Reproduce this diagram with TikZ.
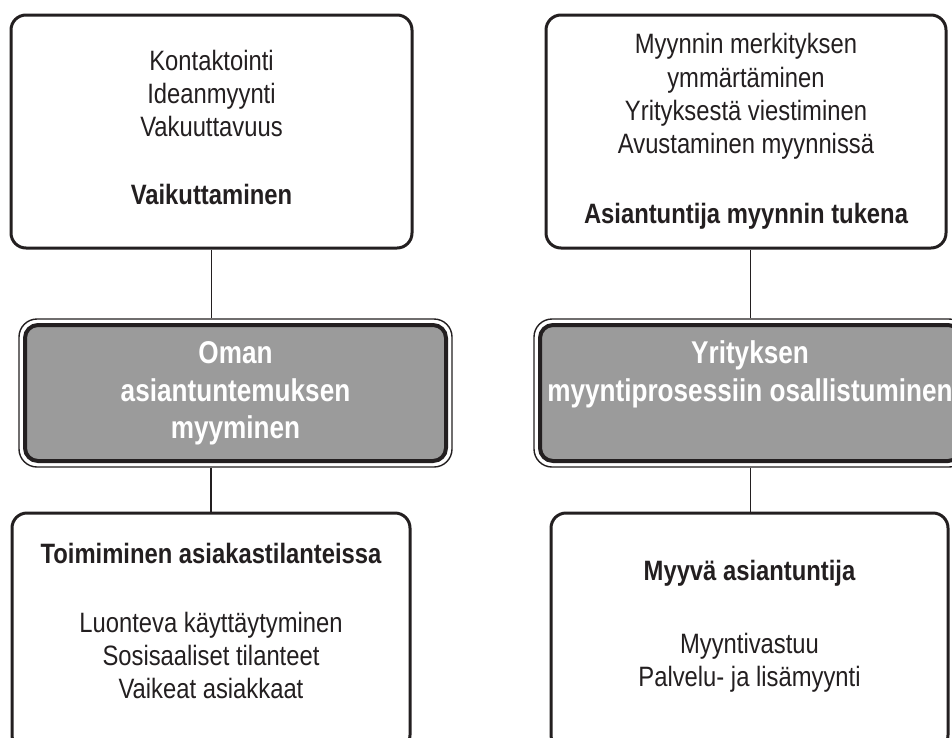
\documentclass[tikz,border=0pt]{standalone}
\usepackage{fontspec}
\setmainfont{Liberation Sans}[FakeStretch=0.85]
\newfontfamily\headfont{Liberation Sans}[FakeStretch=0.83]
\definecolor{ink}{RGB}{35,31,32}
\definecolor{boxgray}{RGB}{155,155,155}
\tikzset{
  card/.style={draw=ink, line width=3pt, rounded corners=15pt, fill=white, inner sep=0pt},
  hubouter/.style={draw=ink, line width=1.4pt, rounded corners=18pt, fill=white, inner sep=0pt},
  hubinner/.style={draw=ink, line width=4pt, rounded corners=13pt, fill=boxgray, inner sep=0pt},
  body/.style={anchor=base, text=ink, inner sep=0pt, font=\fontsize{28}{33}\selectfont},
  title/.style={anchor=base, text=ink, inner sep=0pt, font=\fontsize{28}{33}\selectfont\bfseries},
  hubtext/.style={anchor=base, text=white, inner sep=0pt, font=\headfont\fontsize{31.5}{38}\selectfont\bfseries},
  link/.style={draw=ink, line width=1.1pt},
}
\begin{document}
\begin{tikzpicture}[x=1pt, y=-1pt]
\useasboundingbox (0,0) rectangle (952,737);

% outer cards
\node[card, minimum width=401pt, minimum height=233pt] (tl) at (211.5,131.5) {};
\node[card, minimum width=400pt, minimum height=233pt] (tr) at (746,131.5) {};
\node[card, minimum width=398pt, minimum height=237pt] (bl) at (211,631.5) {};
\node[card, minimum width=397pt, minimum height=237pt] (br) at (749.5,631.5) {};

% central hubs with a double frame
\node[hubouter, minimum width=433pt, minimum height=148pt] (gl) at (235.5,393) {};
\node[hubinner, minimum width=421pt, minimum height=136pt] (gli) at (gl.center) {};
\node[hubouter, minimum width=433pt, minimum height=148pt] (gr) at (750.5,393) {};
\node[hubinner, minimum width=421pt, minimum height=136pt] (gri) at (gr.center) {};

% connectors
\draw[link] (tl.south) -- (tl.south |- gl.north);
\draw[link] (bl.north |- gl.south) -- (bl.north);
\draw[link] (gr.north) -- (gr.north |- tr.south);
\draw[link] (gr.south) -- (gr.south |- br.north);

% top left card
\node[body] (tl1) at (211.5,70) {Kontaktointi};
\node[body] (tl2) at (211.5,103) {Ideanmyynti};
\node[body] (tl3) at (211.5,136) {Vakuuttavuus};
\node[title] (tl4) at (211.5,204) {Vaikuttaminen};

% top right card
\node[body] (tr1) at (746,53) {Myynnin merkityksen};
\node[body] (tr2) at (746,87) {ymmärtäminen};
\node[body] (tr3) at (746,120) {Yrityksestä viestiminen};
\node[body] (tr4) at (746,153) {Avustaminen myynnissä};
\node[title] (tr5) at (746,223) {Asiantuntija myynnin tukena};

% hub labels
\node[hubtext] (gl1) at (235.5,363) {Oman};
\node[hubtext] (gl2) at (235.5,401) {asiantuntemuksen};
\node[hubtext] (gl3) at (235.5,438) {myyminen};
\node[hubtext] (gr1) at (750,363) {Yrityksen};
\node[hubtext] (gr2) at (750,401) {myyntiprosessiin osallistuminen};

% bottom left card
\node[title] (bl1) at (211,563) {Toimiminen asiakastilanteissa};
\node[body] (bl2) at (211,632) {Luonteva käyttäytyminen};
\node[body] (bl3) at (211,665) {Sosisaaliset tilanteet};
\node[body] (bl4) at (211,698) {Vaikeat asiakkaat};

% bottom right card
\node[title] (br1) at (749.5,580) {Myyvä asiantuntija};
\node[body] (br2) at (749.5,653) {Myyntivastuu};
\node[body] (br3) at (749.5,686) {Palvelu- ja lisämyynti};
\end{tikzpicture}
\end{document}
